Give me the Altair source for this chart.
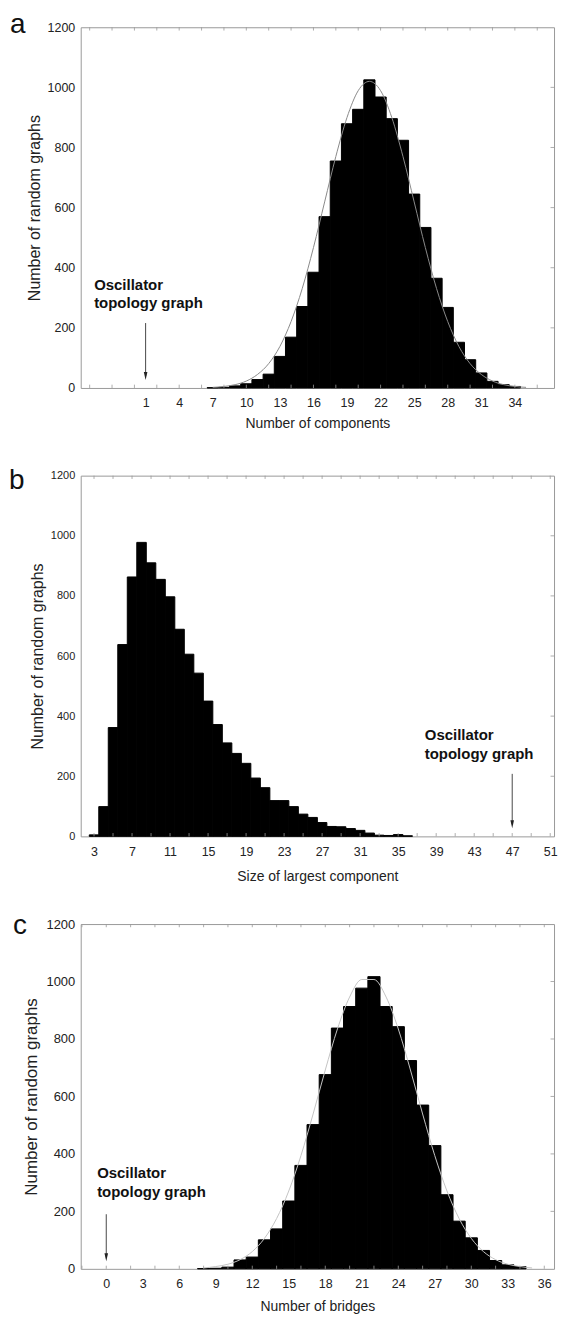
import altair as alt
import pandas as pd

# ---------------- data ----------------
# Panel a: number of components
A_K = list(range(7, 35))
A_COUNT = [1, 2, 7, 14, 28, 46, 105, 169, 271, 385, 570, 755, 879, 927,
           1025, 968, 896, 824, 645, 534, 365, 268, 152, 94, 50, 22, 11, 5]
A_FIT_X = list(range(7, 36))
A_FIT_Y = [2, 5, 11, 23, 45, 81, 138, 221, 331, 467, 619, 770, 900, 989,
           1020, 989, 900, 770, 619, 467, 331, 221, 138, 81, 45, 23, 11, 5, 2]
A_LABELS = [1, 4, 7, 10, 13, 16, 19, 22, 25, 28, 31, 34]
A_OSC = 1

# Panel b: size of largest component
B_K = list(range(3, 37))
B_COUNT = [5, 99, 362, 638, 863, 978, 910, 855, 797, 689, 606, 543, 450, 372,
           311, 276, 243, 194, 162, 119, 119, 99, 74, 63, 46, 33, 32, 26, 20,
           11, 4, 3, 6, 2]
B_LABELS = [3, 7, 11, 15, 19, 23, 27, 31, 35, 39, 43, 47, 51]
B_OSC = 47

# Panel c: number of bridges
C_K = list(range(8, 35))
C_COUNT = [1, 2, 6, 31, 41, 101, 139, 236, 360, 502, 676, 838, 913, 977,
           1017, 913, 843, 725, 570, 429, 258, 166, 108, 64, 29, 14, 8]
C_FIT_X = list(range(8, 36))
C_FIT_Y = [3, 8, 16, 32, 60, 106, 175, 271, 394, 539, 692, 835, 946, 1007,
           1007, 946, 835, 692, 539, 394, 271, 175, 106, 60, 32, 16, 8, 3]
C_LABELS = [0, 3, 6, 9, 12, 15, 18, 21, 24, 27, 30, 33, 36]
C_OSC = 0

Y_LABELS = [0, 200, 400, 600, 800, 1000, 1200]
Y_SIDE_TICKS = [200, 400, 600, 800, 1000]
A_FRAME_TICKS = list(range(-4, 37, 2))
B_FRAME_TICKS = list(range(3, 52, 2))
C_FRAME_TICKS = list(range(-2, 37, 2))

ANNOT = ["Oscillator", "topology graph"]

FONT = "Liberation Sans"
W = 475


def panel(letter, keys, counts, fit_x, fit_y, labels, domain, frame_ticks,
          osc_x, text_x, xtitle, height, letter_xy, ylab_size, curve_color,
          text_y, arrow_top, x_title_pad, y_title_size):
    xs = alt.Scale(domain=domain, nice=False, zero=False)
    ys = alt.Scale(domain=[0, 1200], nice=False, zero=True)
    xax = alt.Axis(
        values=labels, ticks=False, domain=False, grid=False,
        labelFontSize=12.5, labelColor="#222", labelPadding=9,
        labelFlush=False, labelOverlap=False, labelBound=False, format="d",
        title=xtitle, titleFontSize=14,
        titleFontWeight="normal", titleColor="#222",
        titlePadding=x_title_pad)
    yax = alt.Axis(
        values=Y_LABELS, ticks=False, domain=False, grid=False,
        labelFontSize=ylab_size, labelColor="#222", labelPadding=6,
        labelOverlap=False, format="d",
        title="Number of random graphs", titleFontSize=y_title_size,
        titleFontWeight="normal", titleColor="#222", titlePadding=5)

    def X(f):
        return alt.X(f, scale=xs, axis=xax)

    def Y(f):
        return alt.Y(f, scale=ys, axis=yax)

    bars_df = pd.DataFrame({"k": keys, "n": counts})
    bars = alt.Chart(bars_df).transform_calculate(
        x0="datum.k - 0.5", x1="datum.k + 0.5", base="0"
    ).mark_bar(color="black", stroke="black", strokeWidth=1).encode(
        x=X("x0:Q"), x2="x1:Q", y=Y("n:Q"), y2="base:Q")
    layers = [bars]

    if fit_x is not None:
        fit_df = pd.DataFrame({"x": fit_x, "y": fit_y})
        curve = alt.Chart(fit_df).mark_line(
            color=curve_color, strokeWidth=1, interpolate="monotone"
        ).encode(x=X("x:Q"), y=Y("y:Q"))
        layers.append(curve)

    # inward frame ticks (bottom, top, right)
    dy = 11
    ft = pd.DataFrame({"t": frame_ticks})
    bot = alt.Chart(ft).transform_calculate(a="0", b=str(dy)).mark_rule(
        color="#999", strokeWidth=0.8).encode(
        x=X("t:Q"), y=Y("a:Q"), y2="b:Q")
    top = alt.Chart(ft).transform_calculate(a="1200", b=str(1200 - dy)).mark_rule(
        color="#999", strokeWidth=0.8).encode(
        x=X("t:Q"), y=Y("a:Q"), y2="b:Q")
    dx = 3.5 * (domain[1] - domain[0]) / W
    st = pd.DataFrame({"v": Y_SIDE_TICKS})
    side = alt.Chart(st).transform_calculate(
        a=str(domain[1]), b=str(domain[1] - dx)).mark_rule(
        color="#999", strokeWidth=0.8).encode(
        x=X("a:Q"), x2="b:Q", y=Y("v:Q"))
    layers += [bot, top, side]

    # arrow to the oscillator topology graph
    tip_c = 40
    arr_df = pd.DataFrame({"x": [osc_x], "y1": [arrow_top], "y2": [tip_c]})
    shaft = alt.Chart(arr_df).mark_rule(color="#333", strokeWidth=0.9).encode(
        x=X("x:Q"), y=Y("y1:Q"), y2="y2:Q")
    head = alt.Chart(arr_df).mark_point(
        shape="M-0.45,-1L0.45,-1L0,1Z", filled=True, color="#222",
        size=64, opacity=1).encode(x=X("x:Q"), y=Y("y2:Q"))
    ann_df = pd.DataFrame({"x": [text_x, text_x], "y": text_y, "t": ANNOT})
    ann = alt.Chart(ann_df).mark_text(
        align="left", baseline="middle", fontSize=15, fontWeight="bold",
        font=FONT, color="#111").encode(x=X("x:Q"), y=Y("y:Q"), text="t:N")
    lab = alt.Chart(pd.DataFrame({"t": [letter]})).mark_text(
        align="left", baseline="alphabetic", fontSize=28, font=FONT,
        color="#111").encode(
        x=alt.value(letter_xy[0]), y=alt.value(letter_xy[1]), text="t:N")
    layers += [shaft, head, ann, lab]

    return alt.layer(*layers).properties(width=W, height=height)


pa = panel("a", A_K, A_COUNT, A_FIT_X, A_FIT_Y, A_LABELS, [-4.8, 37.5],
           A_FRAME_TICKS, A_OSC, -3.6, "Number of components", 362,
           (-71, 6), 12.5, "#8a8a8a", [343, 282], 216, 7, 16)
pb = panel("b", B_K, B_COUNT, None, None, B_LABELS, [1.6, 51.4],
           B_FRAME_TICKS, B_OSC, 37.8, "Size of largest component", 362,
           (-72, 13), 11, "#8a8a8a", [336, 275], 208, 12, 16)
pc = panel("c", C_K, C_COUNT, C_FIT_X, C_FIT_Y, C_LABELS, [-2.1, 36.8],
           C_FRAME_TICKS, C_OSC, -0.75, "Number of bridges", 346,
           (-68, 10), 13, "#c4c4c4", [333, 269], 190, 9, 17)

chart = alt.vconcat(pa, pb, pc, spacing=88, bounds="flush").properties(
    padding={"left": 8, "top": 8, "right": 4, "bottom": 5}
).configure(font=FONT).configure_axis(
    labelOverlap=False
).configure_view(stroke="#9a9a9a", strokeWidth=1)

chart.save("out.html", embed_options={"renderer": "svg", "actions": False})
